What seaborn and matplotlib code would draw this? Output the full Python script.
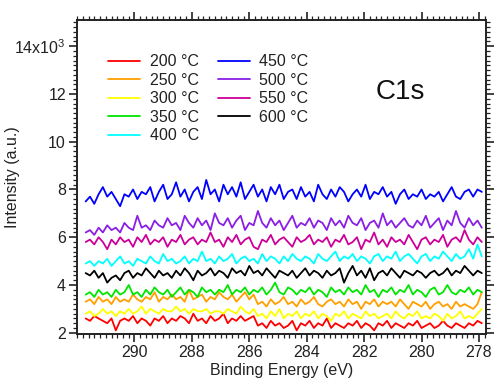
import numpy as np
import pandas as pd
import matplotlib
matplotlib.use("Agg")
import matplotlib.pyplot as plt
import seaborn as sns
from matplotlib.ticker import MultipleLocator, FuncFormatter

# Binding energy axis (eV), 0.15 eV steps from 291.7 down to 277.9
energy_start = 291.7
energy_step = 0.15
n_points = 93

labels = ["200 °C", "250 °C", "300 °C", "350 °C", "400 °C",
          "450 °C", "500 °C", "550 °C", "600 °C"]
colors = ["#ff0000", "#ff9f00", "#ffff00", "#00e600", "#00ffff",
          "#0000ff", "#8a1ee6", "#cc0099", "#000000"]

# Intensities in units of 10^3
i_200 = [2.6, 2.5, 2.7, 2.6, 2.5, 2.4, 2.6, 2.1, 2.5, 2.6,
         2.5, 2.7, 2.4, 2.6, 2.5, 2.3, 2.6, 2.5, 2.7, 2.4,
         2.6, 2.5, 2.7, 2.6, 2.4, 2.8, 2.5, 2.6, 2.4, 2.7,
         2.5, 2.6, 2.8, 2.4, 2.6, 2.5, 2.7, 2.5, 2.6, 2.7,
         2.3, 2.4, 2.2, 2.5, 2.3, 2.4, 2.2, 2.3, 2.5, 2.1,
         2.4, 2.3, 2.5, 2.2, 2.4, 2.3, 2.6, 2.2, 2.4, 2.3,
         2.2, 2.4, 2.3, 2.5, 2.2, 2.4, 2.3, 2.1, 2.4, 2.3,
         2.5, 2.2, 2.4, 2.3, 2.2, 2.4, 2.3, 2.5, 2.2, 2.3,
         2.4, 2.2, 2.3, 2.5, 2.3, 2.2, 2.4, 2.3, 2.2, 2.4,
         2.3, 2.5, 2.4]
i_250 = [3.3, 3.4, 3.2, 3.5, 3.3, 3.4, 3.2, 3.5, 3.3, 3.4,
         3.3, 3.6, 3.4, 3.3, 3.5, 3.4, 3.7, 3.3, 3.5, 3.4,
         3.6, 3.4, 3.5, 3.3, 3.8, 3.4, 3.5, 3.6, 3.3, 3.5,
         3.4, 3.7, 3.5, 3.4, 3.6, 3.3, 3.5, 3.7, 3.4, 3.6,
         3.2, 3.3, 3.1, 3.4, 3.2, 3.3, 3.5, 3.2, 3.3, 3.1,
         3.4, 3.2, 3.3, 3.5, 3.2, 3.1, 3.3, 3.4, 3.2, 3.3,
         3.1, 3.4, 3.2, 3.3, 3.0, 3.3, 3.2, 3.4, 3.1, 3.3,
         3.2, 3.3, 3.1, 3.4, 3.2, 3.0, 3.3, 3.2, 3.1, 3.3,
         3.0, 3.2, 3.3, 3.1, 3.2, 3.0, 3.3, 3.1, 3.2, 3.1,
         3.0, 3.2, 3.7]
i_300 = [2.8, 2.9, 2.7, 2.8, 3.0, 2.8, 2.9, 2.7, 2.9, 2.8,
         3.0, 2.8, 2.9, 3.1, 2.8, 3.0, 2.9, 2.8, 3.0, 2.9,
         2.9, 3.1, 2.9, 3.0, 2.8, 3.0, 2.9, 2.9, 3.0, 2.8,
         2.9, 2.9, 2.8, 3.0, 2.9, 2.8, 3.1, 2.9, 2.8, 3.0,
         2.7, 2.8, 2.6, 2.9, 2.7, 3.0, 2.6, 2.8, 2.7, 2.9,
         2.6, 2.8, 2.7, 2.9, 2.6, 2.8, 2.7, 2.5, 2.8, 2.7,
         2.9, 2.6, 2.8, 2.7, 2.6, 2.9, 2.7, 2.8, 2.6, 2.7,
         2.8, 2.6, 2.9, 2.7, 2.6, 2.8, 2.7, 2.9, 2.6, 2.7,
         2.6, 2.8, 2.7, 2.5, 2.8, 2.6, 2.7, 2.9, 2.6, 2.7,
         2.6, 2.8, 3.0]
i_350 = [3.6, 3.7, 3.5, 3.8, 3.6, 3.7, 3.5, 3.8, 3.6, 3.7,
         4.0, 3.6, 3.7, 3.5, 3.8, 3.6, 3.9, 3.7, 3.6, 3.8,
         3.5, 3.7, 3.9, 3.6, 3.8, 3.7, 3.5, 3.9, 3.7, 3.8,
         3.6, 3.8, 3.7, 4.0, 3.6, 3.8, 3.7, 3.9, 3.6, 3.8,
         3.7, 3.9, 3.6, 3.8, 4.1, 3.7, 3.6, 3.9, 3.8, 3.6,
         3.8, 3.7, 3.9, 3.6, 3.8, 3.7, 3.5, 3.9, 3.7, 3.8,
         3.6, 3.9, 3.7, 3.8, 3.6, 4.0, 3.7, 3.8, 3.5, 3.8,
         3.7, 3.9, 3.6, 3.8, 3.7, 4.0, 3.6, 3.8, 3.7, 3.5,
         3.8, 3.9, 3.6, 3.7, 4.0, 3.7, 3.6, 3.8, 3.7, 3.9,
         3.6, 3.8, 3.7]
i_400 = [4.9, 5.0, 4.8, 5.0, 4.9, 5.1, 4.8, 5.0, 5.2, 4.9,
         5.0, 4.8, 5.1, 5.0, 4.9, 5.2, 5.0, 4.9, 5.3, 5.0,
         5.1, 4.9, 5.0, 5.2, 4.9, 5.1, 5.0, 5.4, 5.0, 5.1,
         4.9, 5.2, 5.0, 5.1, 5.3, 4.9, 5.1, 5.2, 5.0, 5.1,
         4.9, 5.3, 5.0, 5.2, 5.1, 4.9, 5.2, 5.0, 5.3, 5.1,
         5.0, 5.2, 5.1, 4.9, 5.3, 5.1, 5.0, 5.2, 5.4, 5.0,
         5.2, 5.1, 5.3, 5.0, 5.2, 5.1, 4.9, 5.2, 5.3, 5.0,
         5.2, 5.1, 5.4, 5.0, 5.2, 5.3, 5.1, 4.9, 5.2, 5.3,
         5.0, 5.2, 5.1, 5.4, 5.2, 5.0, 5.3, 5.1, 5.2, 5.5,
         5.1, 5.7, 5.2]
i_450 = [7.5, 7.7, 7.4, 7.8, 8.1, 7.7, 7.9, 7.6, 7.3, 7.8,
         7.7, 8.0, 7.6, 7.9, 7.8, 8.1, 7.5, 7.9, 8.2, 7.6,
         7.8, 8.3, 7.7, 8.0, 7.5, 7.9, 8.1, 7.6, 8.4, 7.8,
         8.0, 7.5, 8.2, 7.8, 8.1, 7.7, 8.3, 7.6, 7.9, 8.2,
         7.7, 8.0, 7.5, 8.1, 7.8, 8.2, 7.6, 7.9, 8.0, 7.6,
         8.1, 7.7, 7.9, 7.5, 8.2, 7.8, 7.6, 8.0, 7.7, 8.1,
         7.9, 7.5, 7.8, 8.0, 7.7, 8.2, 7.6, 7.9, 7.8, 8.1,
         7.7, 7.9, 7.4, 7.8, 8.0, 7.6, 7.8, 7.7, 8.0, 7.6,
         7.8, 7.7, 7.9, 7.5, 7.8, 8.1, 7.7, 7.6, 7.9, 8.0,
         7.7, 8.0, 7.9]
i_500 = [6.2, 6.3, 6.1, 6.4, 6.2, 6.5, 6.3, 6.4, 6.2, 6.6,
         6.4, 6.3, 6.9, 6.4, 6.5, 6.3, 6.7, 6.5, 6.4, 6.8,
         6.5, 6.6, 6.3, 6.9, 6.6, 6.4, 6.8, 6.5, 6.7, 6.3,
         7.0, 6.6, 6.5, 6.8, 6.4, 6.7, 6.9, 6.3, 6.6, 6.5,
         7.1, 6.6, 6.4, 6.8, 6.5, 6.7, 6.3, 6.6, 6.9, 6.4,
         6.6, 6.5, 6.8, 6.4, 6.7, 6.6, 6.3, 6.8, 6.5, 6.7,
         6.4, 6.9, 6.6, 6.5, 6.8, 6.3, 6.6, 6.7, 6.4, 7.0,
         6.5, 6.7, 6.4, 6.6, 6.8, 6.5, 6.4, 6.7, 6.5, 6.9,
         6.4, 6.6, 6.8, 6.3, 6.7, 6.5, 7.1, 6.6, 6.4, 6.8,
         6.5, 6.7, 6.4]
i_550 = [5.8, 5.9, 5.7, 6.0, 5.8, 5.5, 5.9, 5.7, 6.0, 5.8,
         5.9, 5.6, 6.0, 5.8, 6.1, 5.7, 5.9, 5.8, 6.0, 5.6,
         5.9, 5.8, 6.1, 5.7, 5.9, 6.0, 5.7, 5.9, 5.8, 6.2,
         5.8, 5.9, 5.6, 6.0, 5.8, 6.1, 5.7, 5.9, 6.0, 5.6,
         5.5, 5.9, 5.8, 6.1, 5.7, 5.9, 6.0, 5.8, 5.6, 6.0,
         5.8, 5.9, 6.1, 5.7, 5.9, 5.8, 6.0, 5.6, 5.9, 5.8,
         6.1, 5.7, 5.8, 6.0, 5.5, 5.9, 5.8, 6.2, 5.7, 5.9,
         5.6, 6.0, 5.8, 5.9, 5.7, 6.1, 5.8, 5.5, 5.9, 6.0,
         5.7, 5.9, 5.8, 6.1, 5.6, 5.9, 6.0, 5.8, 6.3, 5.9,
         5.7, 6.0, 5.8]
i_600 = [4.5, 4.4, 4.6, 4.3, 4.5, 4.1, 4.3, 4.4, 4.2, 4.5,
         4.6, 4.3, 4.5, 4.4, 4.7, 4.5, 4.3, 4.6, 4.4, 4.5,
         4.3, 4.6, 4.4, 4.7, 4.5, 4.2, 4.6, 4.4, 4.5, 4.7,
         4.4, 4.6, 4.5, 4.3, 4.7, 4.5, 4.6, 4.4, 4.8, 4.5,
         4.6, 4.4, 4.7, 4.5, 4.3, 4.6, 4.5, 4.4, 4.6, 4.3,
         4.5, 4.7, 4.4, 4.6, 4.5, 4.3, 4.6, 4.4, 4.5, 4.7,
         4.1, 4.5, 4.8, 4.4, 4.6, 4.3, 4.7, 4.2, 4.5, 4.6,
         4.4, 4.7, 4.5, 4.3, 4.6, 4.5, 4.4, 4.6, 4.5, 4.3,
         4.5, 4.6, 4.4, 4.5, 4.7, 4.4, 4.6, 4.5, 4.8, 4.6,
         4.4, 4.6, 4.5]

series = [i_200, i_250, i_300, i_350, i_400, i_450, i_500, i_550, i_600]

x_major_ticks = [290, 288, 286, 284, 282, 280, 278]
y_major_ticks = [2, 4, 6, 8, 10, 12, 14]

energy = energy_start - energy_step * np.arange(n_points)
frames = []
for lab, vals in zip(labels, series):
    frames.append(pd.DataFrame({"Binding Energy (eV)": energy,
                                "Intensity": vals,
                                "T": lab}))
df = pd.concat(frames, ignore_index=True)

sns.set_theme(style="ticks")
plt.rcParams["font.family"] = ["Liberation Sans", "DejaVu Sans"]
plt.rcParams["mathtext.fontset"] = "custom"
plt.rcParams["mathtext.rm"] = "Liberation Sans"

fig = plt.figure(figsize=(4.94, 3.83), dpi=100)
ax = fig.add_axes([0.156, 0.128, 0.828, 0.82])

sns.lineplot(data=df, x="Binding Energy (eV)", y="Intensity", hue="T",
             hue_order=labels, palette=colors, linewidth=1.3, ax=ax,
             legend=True, estimator=None, sort=False)

ax.set_xlim(292.0, 277.75)
ax.set_ylim(1.95, 15.1)
ax.set_xticks(x_major_ticks)
ax.set_yticks(y_major_ticks)
ax.xaxis.set_minor_locator(MultipleLocator(0.2))
ax.yaxis.set_minor_locator(MultipleLocator(0.2))

def yfmt(v, pos):
    if abs(v - 14) < 1e-6:
        return "14x10$^{3}$"
    return f"{int(round(v))}"

ax.yaxis.set_major_formatter(FuncFormatter(yfmt))
ax.xaxis.set_major_formatter(FuncFormatter(lambda v, p: f"{int(round(v))}"))

ax.tick_params(which="both", direction="out", top=True, right=True,
               labeltop=False, labelright=False, color="#222222")
ax.tick_params(which="major", length=6, width=1.2, labelsize=11.5,
               labelcolor="#222222", pad=2)
ax.tick_params(which="minor", length=3, width=0.9)
for s in ax.spines.values():
    s.set_linewidth(1.4)
    s.set_color("#222222")

ax.set_xlabel("Binding Energy (eV)", fontsize=11.5, color="#222222", labelpad=2)
ax.set_ylabel("Intensity (a.u.)", fontsize=11.5, color="#222222")
ax.yaxis.set_label_coords(-0.14, 0.5)

ax.text(0.79, 0.769, "C1s", transform=ax.transAxes, fontsize=20,
        color="#111111", ha="center", va="center")

handles, labs = ax.get_legend_handles_labels()
leg = ax.legend(handles, labs, ncol=2, frameon=False, loc="upper left",
                bbox_to_anchor=(0.06, 0.911), fontsize=11.5,
                handlelength=2.0, handletextpad=0.6, columnspacing=1.2,
                labelspacing=0.22, borderaxespad=0.0)
for t in leg.get_texts():
    t.set_color("#222222")

fig.savefig("out.png", dpi=100)
